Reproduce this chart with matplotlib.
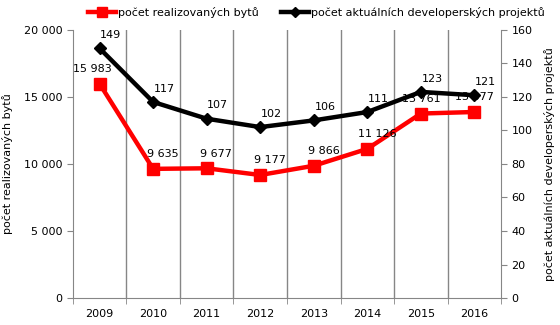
import numpy as np
import matplotlib
matplotlib.use('Agg')
import matplotlib.pyplot as plt
from matplotlib.ticker import FuncFormatter

years = ['2009', '2010', '2011', '2012', '2013', '2014', '2015', '2016']
byty = [15983, 9635, 9677, 9177, 9866, 11126, 13761, 13877]
projekty = [149, 117, 107, 102, 106, 111, 123, 121]

plt.rcParams['font.family'] = 'DejaVu Sans'
plt.rcParams['font.size'] = 8

fig = plt.figure(figsize=(5.6, 3.25), dpi=100)
ax = fig.add_axes([0.130, 0.083, 0.765, 0.825])
ax2 = ax.twinx()

x = np.arange(len(years))
grey = '#868686'

# category boundaries as vertical gridlines
for b in np.arange(0.5, len(years) - 0.5):
    ax.axvline(b, color=grey, lw=1, zorder=0)

ax.plot(x, byty, color='#ff0000', lw=3.2, marker='s', ms=8.5, zorder=3,
        label='počet realizovaných bytů')
ax2.plot(x, projekty, color='black', lw=3.2, marker='D', ms=6.5, zorder=3,
         label='počet aktuálních developerských projektů')

fmt = lambda v, p: f'{int(v):,}'.replace(',', ' ')
for i, v in enumerate(byty):
    dx = -5 if i == 0 else (0 if i >= 6 else 7)
    ax.annotate(fmt(v, None), (x[i], v), xytext=(dx, 7), textcoords='offset points',
                ha='center', va='bottom', fontsize=8)
for i, v in enumerate(projekty):
    ax2.annotate(str(v), (x[i], v), xytext=(8, 6), textcoords='offset points',
                 ha='center', va='bottom', fontsize=8)

ax.set_xlim(-0.5, len(years) - 0.5)
ax.set_ylim(0, 20000)
ax.set_yticks(np.arange(0, 20001, 5000))
ax.yaxis.set_major_formatter(FuncFormatter(fmt))
ax2.set_ylim(0, 160)
ax2.set_yticks(np.arange(0, 161, 20))

ax.set_xticks(x)
ax.set_xticklabels(years)
ax.set_xticks(np.arange(-0.5, len(years)), minor=True)
ax.tick_params(axis='x', which='major', length=0, pad=8, labelsize=8)
ax.tick_params(axis='x', which='minor', length=4, color=grey)
ax.tick_params(axis='y', length=4, color=grey, labelsize=8)
ax2.tick_params(axis='y', length=4, color=grey, labelsize=8)

for a in (ax, ax2):
    for s in a.spines.values():
        s.set_visible(False)
    a.set_facecolor('none')
ax.spines['left'].set_visible(True)
ax.spines['left'].set_color(grey)
ax.spines['bottom'].set_visible(True)
ax.spines['bottom'].set_color(grey)
ax2.spines['right'].set_visible(True)
ax2.spines['right'].set_color(grey)

ax.set_ylabel('počet realizovaných bytů', fontsize=8, labelpad=8)
ax2.set_ylabel('počet aktuálních developerských projektů', fontsize=8, labelpad=8)

h1, l1 = ax.get_legend_handles_labels()
h2, l2 = ax2.get_legend_handles_labels()
fig.legend(h1 + h2, l1 + l2, loc='upper center', bbox_to_anchor=(0.565, 1.01), ncol=2,
           frameon=False, fontsize=8, handlelength=2.5, handletextpad=0.2,
           columnspacing=2.0, markerscale=0.8)

fig.savefig('out.png', dpi=100)
